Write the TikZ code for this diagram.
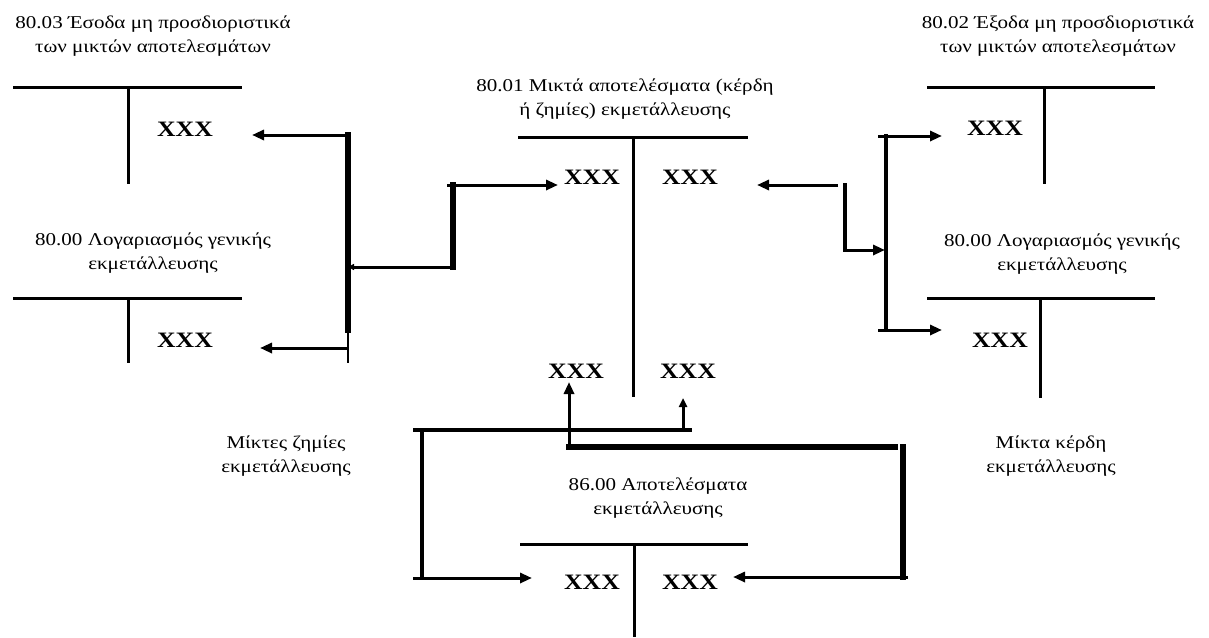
\documentclass[tikz,border=0pt]{standalone}
\usepackage{fontspec}
\setmainfont[FakeStretch=1.17]{Liberation Serif}
\usetikzlibrary{arrows.meta}
\begin{document}
\begin{tikzpicture}[x=1pt,y=-1pt,
  heading/.style={font=\fontsize{18}{24}\selectfont, align=center, inner sep=0pt},
  amount/.style={font=\fontsize{22}{24}\selectfont\bfseries, inner sep=0pt},
  rule/.style={line width=3pt},
  bus/.style={line width=5.5pt, line cap=rect},
  flow/.style={line width=3pt, -{Triangle[length=12pt,width=10pt]}},
  smallflow/.style={line width=3pt, -{Triangle[length=9pt,width=8pt]}},
]
\useasboundingbox (0,0) rectangle (1209,637);

% account titles and side labels
\node[heading] (h03)  at (153,36)  {80.03 Έσοδα μη προσδιοριστικά\\των μικτών αποτελεσμάτων};
\node[heading] (h01)  at (625,99)  {80.01 Μικτά αποτελέσματα (κέρδη\\ή ζημίες) εκμετάλλευσης};
\node[heading] (h02)  at (1058,36) {80.02 Έξοδα μη προσδιοριστικά\\των μικτών αποτελεσμάτων};
\node[heading] (hL00) at (153,253) {80.00 Λογαριασμός γενικής\\εκμετάλλευσης};
\node[heading] (hR00) at (1062,254) {80.00 Λογαριασμός γενικής\\εκμετάλλευσης};
\node[heading] (h86)  at (658,498) {86.00 Αποτελέσματα\\εκμετάλλευσης};
\node[heading] (loss) at (286,456) {Μίκτες ζημίες\\εκμετάλλευσης};
\node[heading] (gain) at (1051,456) {Μίκτα κέρδη\\εκμετάλλευσης};

% T accounts
\draw[rule] (13,87) -- (242,87) (128,87) -- (128,184);
\draw[rule] (13,298) -- (242,298) (128,298) -- (128,363);
\draw[rule] (518,137) -- (748,137) (633,137) -- (633,397);
\draw[rule] (927,87) -- (1155,87) (1044,87) -- (1044,184);
\draw[rule] (927,298) -- (1155,298) (1040,298) -- (1040,398);
\draw[rule] (520,544) -- (748,544) (634,544) -- (634,637);

% amounts
\node[amount] (x03)  at (185,129) {XXX};
\node[amount] (xL00) at (185,340) {XXX};
\node[amount] (x01a) at (592,177) {XXX};
\node[amount] (x01b) at (690,177) {XXX};
\node[amount] (x01c) at (576,371) {XXX};
\node[amount] (x01d) at (688,371) {XXX};
\node[amount] (x02)  at (995,128) {XXX};
\node[amount] (xR00) at (1000,340) {XXX};
\node[amount] (x86a) at (592,582) {XXX};
\node[amount] (x86b) at (690,582) {XXX};

% connector points
\coordinate (lbTop)  at (348,135);
\coordinate (lbJoin) at (348,267);
\coordinate (lbThin) at (348,330);
\coordinate (lbEnd)  at (348,363);
\coordinate (lbOut)  at (348,348);
\coordinate (in03)   at (252,135);
\coordinate (inL00)  at (260,348);
\coordinate (st1)    at (453,267);
\coordinate (st2)    at (453,185);
\coordinate (st3)    at (447,185);
\coordinate (in01a)  at (558,185);

\coordinate (rFrom)  at (838,185);
\coordinate (in01b)  at (757,185);
\coordinate (rs1)    at (845,185);
\coordinate (rs2)    at (845,250);
\coordinate (rbJoin) at (885,250);
\coordinate (rbTop)  at (886,136);
\coordinate (rbBot)  at (886,330);
\coordinate (rbTopL) at (878,136);
\coordinate (rbBotL) at (878,330);
\coordinate (in02)   at (942,136);
\coordinate (inR00)  at (942,330);

\coordinate (b1L)    at (413,430);
\coordinate (b1R)    at (692,430);
\coordinate (b1Up)   at (683,430);
\coordinate (in01d)  at (683,398);
\coordinate (blv)    at (422,430);
\coordinate (blvB)   at (422,578);
\coordinate (b86L)   at (413,578);
\coordinate (in86a)  at (532,578);
\coordinate (b2L)    at (569,447);
\coordinate (b2R)    at (895,447);
\coordinate (in01c)  at (569,382);
\coordinate (brv)    at (903,447);
\coordinate (brvB)   at (903,577);
\coordinate (b86R)   at (908,577);
\coordinate (in86b)  at (733,577);

% losses side
\draw[bus] (lbTop) -- (lbThin);
\draw[line width=2.5pt] (lbThin) -- (lbEnd);
\draw[flow] (lbTop) -- (in03);
\draw[flow] (lbOut) -- (inL00);
\draw[line width=3pt, -{Triangle[length=6pt,width=6pt]}] (st1) -- (lbJoin);
\draw[bus] (st1) -- (st2);
\draw[flow] (st3) -- (in01a);

% profits side
\draw[flow] (rFrom) -- (in01b);
\draw[line width=3.5pt, line cap=rect] (rs1) -- (rs2);
\draw[flow] (rs2) -- (rbJoin);
\draw[line width=4pt, line cap=rect] (rbTop) -- (rbBot);
\draw[flow] (rbTopL) -- (in02);
\draw[flow] (rbBotL) -- (inR00);

% closing to 86.00
\draw[line width=4.5pt] (b1L) -- (b1R);
\draw[smallflow] (b1Up) -- (in01d);
\draw[line width=4.5pt] (blv) -- (blvB);
\draw[flow] (b86L) -- (in86a);
\draw[bus] (b2L) -- (b2R);
\draw[flow] (b2L) -- (in01c);
\draw[bus] (brv) -- (brvB);
\draw[flow] (b86R) -- (in86b);
\end{tikzpicture}
\end{document}
